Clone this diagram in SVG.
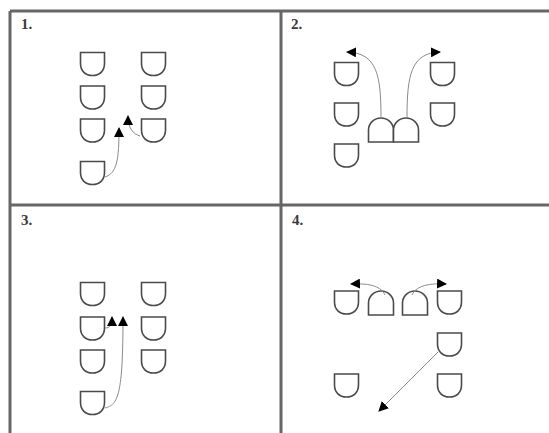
<svg xmlns="http://www.w3.org/2000/svg" width="549" height="433" viewBox="0 0 549 433">
<style>
.grid{stroke:#666;stroke-width:3;fill:none}
.seat{fill:#fff;stroke:#4a4a4a;stroke-width:1.6}
.con{fill:none;stroke:#8a8a8a;stroke-width:1}
.lbl{font-family:"Liberation Serif",serif;font-size:15px;font-weight:bold;fill:#3a3a3a}
</style>
<defs>
<path id="shield" d="M0,0 H24 V11 C24,18.5 19,23 12,23 C5,23 0,18.5 0,11 Z"/>
<path id="arch" d="M0,24 V12 C0,5 6,0 12.5,0 C19,0 25,5 25,12 V24 Z"/>
<marker id="ah" viewBox="0 0 10 10" refX="9" refY="5" markerWidth="10" markerHeight="10" markerUnits="userSpaceOnUse" orient="auto">
<path d="M0,0 L10,5 L0,10 Z" fill="#000"/>
</marker>
</defs>
<rect width="549" height="433" fill="#fff"/>
<g id="grid">
<line class="grid" x1="10" y1="11" x2="549" y2="11"/>
<line class="grid" x1="10" y1="11" x2="10" y2="433"/>
<line class="grid" x1="281" y1="11" x2="281" y2="433"/>
<line class="grid" x1="10" y1="205" x2="549" y2="205"/>
</g>
<g id="labels">
<text class="lbl" x="21" y="29">1.</text>
<text class="lbl" x="291" y="29">2.</text>
<text class="lbl" x="21" y="225">3.</text>
<text class="lbl" x="292" y="225">4.</text>
</g>
<g id="panel1">
<g id="p1-l1"><use href="#shield" class="seat" x="80.5" y="52.5"/></g>
<g id="p1-l2"><use href="#shield" class="seat" x="80.5" y="86"/></g>
<g id="p1-l3"><use href="#shield" class="seat" x="80.5" y="119"/></g>
<g id="p1-l4"><use href="#shield" class="seat" x="80.5" y="161.5"/></g>
<g id="p1-r1"><use href="#shield" class="seat" x="141.5" y="52.5"/></g>
<g id="p1-r2"><use href="#shield" class="seat" x="141.5" y="86"/></g>
<g id="p1-r3"><use href="#shield" class="seat" x="141.5" y="119"/></g>
</g>
<g id="panel2">
<g id="p2-l1"><use href="#shield" class="seat" x="334.5" y="62.5"/></g>
<g id="p2-l2"><use href="#shield" class="seat" x="334.5" y="103"/></g>
<g id="p2-l3"><use href="#shield" class="seat" x="334.5" y="144"/></g>
<g id="p2-r1"><use href="#shield" class="seat" x="430.5" y="62.5"/></g>
<g id="p2-r2"><use href="#shield" class="seat" x="430.5" y="103"/></g>
<g id="p2-a1"><use href="#arch" class="seat" x="368.5" y="118"/></g>
<g id="p2-a2"><use href="#arch" class="seat" x="393.5" y="118"/></g>
</g>
<g id="panel3">
<g id="p3-l1"><use href="#shield" class="seat" x="80.5" y="282.5"/></g>
<g id="p3-l2"><use href="#shield" class="seat" x="80.5" y="317"/></g>
<g id="p3-l3"><use href="#shield" class="seat" x="80.5" y="350"/></g>
<g id="p3-l4"><use href="#shield" class="seat" x="80.5" y="391.5"/></g>
<g id="p3-r1"><use href="#shield" class="seat" x="141.5" y="282.5"/></g>
<g id="p3-r2"><use href="#shield" class="seat" x="141.5" y="317"/></g>
<g id="p3-r3"><use href="#shield" class="seat" x="141.5" y="350"/></g>
</g>
<g id="panel4">
<g id="p4-s1"><use href="#shield" class="seat" x="334.5" y="291"/></g>
<g id="p4-a1"><use href="#arch" class="seat" x="368.5" y="291"/></g>
<g id="p4-a2"><use href="#arch" class="seat" x="402.5" y="291"/></g>
<g id="p4-s2"><use href="#shield" class="seat" x="437.5" y="291"/></g>
<g id="p4-s3"><use href="#shield" class="seat" x="437.5" y="333"/></g>
<g id="p4-s4"><use href="#shield" class="seat" x="334.5" y="374"/></g>
<g id="p4-s5"><use href="#shield" class="seat" x="437.5" y="374"/></g>
</g>
<g id="connectors">
<path class="con" marker-end="url(#ah)" d="M105,177 C117,173 119,160 119,128"/>
<path class="con" marker-end="url(#ah)" d="M140,136 C133,134 128,128 128,116"/>
<path class="con" marker-end="url(#ah)" d="M381,118 C381,75 377,53 347,52"/>
<path class="con" marker-end="url(#ah)" d="M407,118 C407,75 411,53 440,52"/>
<path class="con" marker-end="url(#ah)" d="M105,408 C118,405 123,395 123,317"/>
<path class="con" marker-end="url(#ah)" d="M105,328 C110,328 112,325 112,317"/>
<path class="con" marker-end="url(#ah)" d="M385,295 C381,287 372,283 351,284"/>
<path class="con" marker-end="url(#ah)" d="M412,295 C416,287 425,283 446,284"/>
<path class="con" marker-end="url(#ah)" d="M438,352 L379,411"/>
</g>
</svg>
